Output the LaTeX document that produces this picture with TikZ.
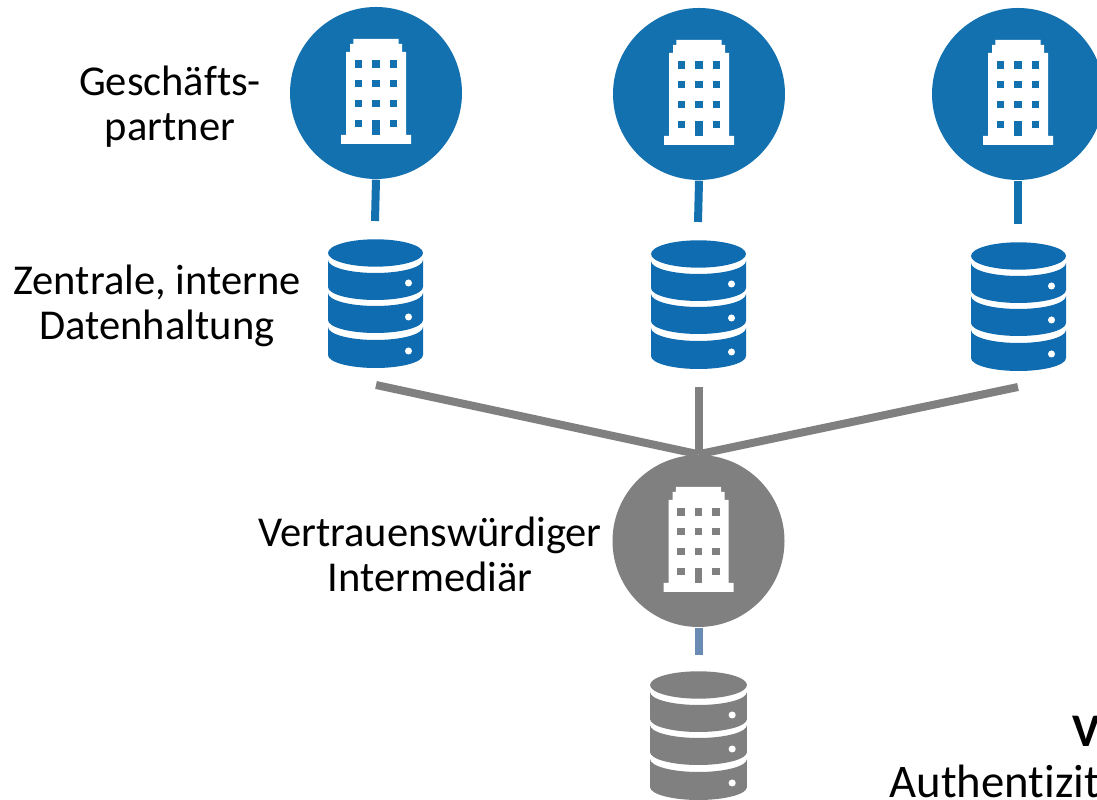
\documentclass[tikz,border=0pt]{standalone}
\usepackage{fontspec}
\setmainfont[Ligatures=CommonOff]{Carlito}
\usetikzlibrary{calc}
\definecolor{partnerblue}{HTML}{1471B0}
\definecolor{dbblue}{HTML}{0F6CB0}
\definecolor{midgrey}{HTML}{808080}
\definecolor{linkblue}{HTML}{6A8CB4}
\tikzset{
	party/.style={circle,fill=#1,minimum size=1.72cm,inner sep=0pt},
	link/.style={draw=#1,line width=0.08cm},
	caption/.style={align=center,inner sep=0pt,font=\fontsize{12.1}{12.8}\selectfont},
	bigcaption/.style={inner sep=0pt,anchor=base west,font=\fontsize{13.3}{14}\selectfont},
	pics/building/.style={code={
		\fill[white] (-0.35,-0.51)--(0.35,-0.51)--(0.35,-0.42)--(0.30,-0.42)--(0.30,0.41)--(0.26,0.41)--(0.26,0.49)--(0.226,0.49)--(0.226,0.54)--(-0.226,0.54)--(-0.226,0.49)--(-0.26,0.49)--(-0.26,0.41)--(-0.30,0.41)--(-0.30,-0.42)--(-0.35,-0.42)--cycle;
		%windows
		\foreach \wx in {-0.175,0,0.175}
			\foreach \wy in {0.29,0.093,-0.107}
				\fill[#1] (\wx-0.038,\wy-0.038) rectangle (\wx+0.038,\wy+0.038);
		\fill[#1] (-0.213,-0.345) rectangle (-0.137,-0.269);
		\fill[#1] (0.137,-0.345) rectangle (0.213,-0.269);
		\fill[#1] (-0.038,-0.423) rectangle (0.038,-0.27);
	}},
	pics/dbstack/.style={code={
		\fill[#1] (0,-0.14) ellipse[x radius=0.475,y radius=0.137];
		\foreach \ta/\tb/\dy in {-0.21/-0.48/-0.44,-0.54/-0.81/-0.78,-0.88/-1.16/-1.12}{
			\fill[#1] (-0.475,\ta)--(-0.475,\tb) arc[start angle=180,end angle=360,x radius=0.475,y radius=0.13]--(0.475,\ta) arc[start angle=360,end angle=180,x radius=0.475,y radius=0.13]--cycle;
			\fill[white] (0.33,\dy) circle[radius=0.035];
		}
	}},
}
\begin{document}
\begin{tikzpicture}
	\useasboundingbox (0,0) rectangle (10.97,8);
	%business partners
	\node[party=partnerblue] (gp1) at (3.76,7.07) {};
	\node[party=partnerblue] (gp2) at (6.99,7.06) {};
	\node[party=partnerblue] (gp3) at (10.18,7.06) {};
	\node[party=midgrey] (ti) at (6.985,2.59) {};
	\pic at (gp1) {building=partnerblue};
	\pic at (gp2) {building=partnerblue};
	\pic at (gp3) {building=partnerblue};
	\pic at (ti) {building=midgrey};
	%
	\pic at (3.755,5.61) {dbstack=dbblue};
	\pic at (6.985,5.60) {dbstack=dbblue};
	\pic at (10.185,5.58) {dbstack=dbblue};
	\pic[xscale=1.02] at (6.985,1.29) {dbstack=midgrey};
	%
	\coordinate (s1) at (3.75,5.79);
	\coordinate (s2) at (6.98,5.78);
	\coordinate (s3) at (10.18,5.76);
	\draw[link=partnerblue] (gp1.south)--(s1);
	\draw[link=partnerblue] (gp2.south)--(s2);
	\draw[link=partnerblue] (gp3.south)--(s3);
	%
	\coordinate (g1) at (3.76,4.15);
	\coordinate (g2) at (6.985,4.13);
	\coordinate (g3) at (10.18,4.13);
	\draw[link=midgrey] (g1)--(ti.north);
	\draw[link=midgrey] (g2)--(ti.north);
	\draw[link=midgrey] (g3)--(ti.north);
	%
	\coordinate (s4) at (6.985,1.45);
	\draw[link=linkblue] (ti.south)--(s4);
	%
	\node[caption] (l1) at (1.70,6.93) {Geschäfts-\\partner};
	\node[caption] (l2) at (1.57,4.94) {Zentrale, interne\\Datenhaltung};
	\node[caption] (l3) at (4.30,2.46) {Vertrauenswürdiger\\Intermediär};
	\node[bigcaption] (l4) at (8.89,0.02) {Authentizit};
	\node[bigcaption] (l5) at (10.72,0.53) {\bfseries V};
\end{tikzpicture}
\end{document}
